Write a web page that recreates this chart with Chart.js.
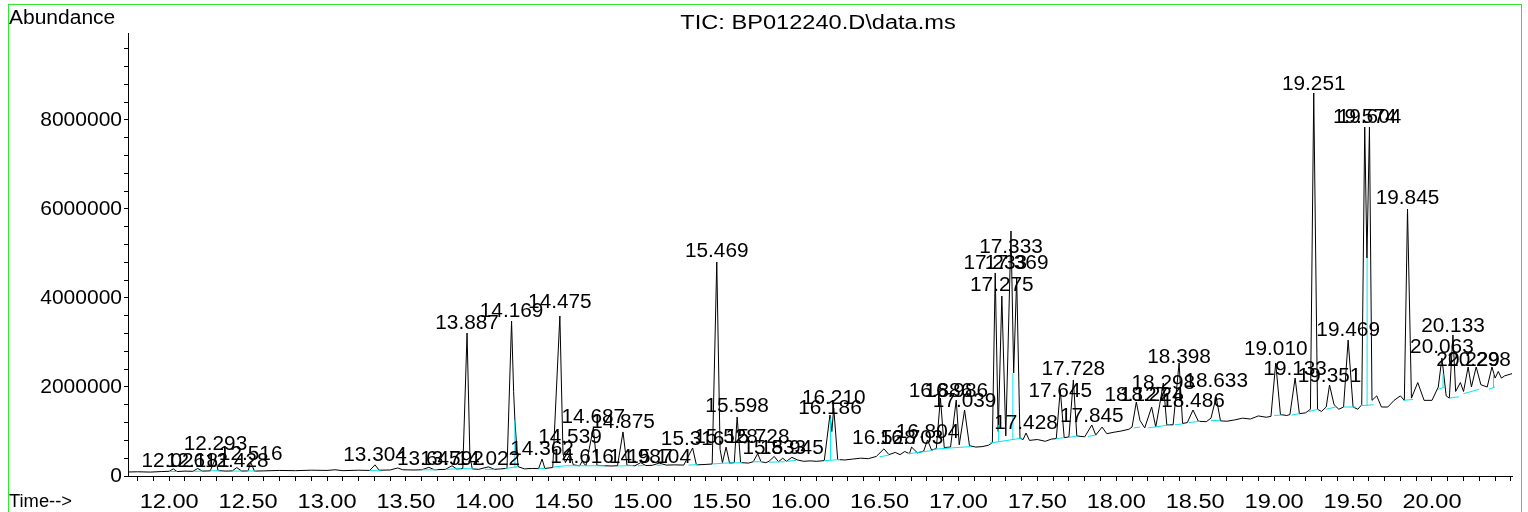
<!DOCTYPE html>
<html>
<head>
<meta charset="utf-8">
<script src="https://cdn.jsdelivr.net/npm/chart.js@4.4.1/dist/chart.umd.min.js"></script>
<style>
  html, body { margin: 0; padding: 0; background: #fff; }
  canvas { display: block; }
</style>
</head>
<body>
<canvas id="tic" width="1528" height="512"></canvas>
<script>
// TIC trace: [retention time (min), abundance]
const ticTrace = [
  [11.74, 90000], [11.80, 95000], [11.88, 88000], [11.95, 100000], [12.00, 105000],
  [12.026, 160000], [12.05, 100000], [12.10, 110000], [12.15, 105000], [12.181, 170000],
  [12.21, 110000], [12.26, 115000], [12.293, 390000], [12.31, 120000], [12.36, 110000],
  [12.40, 115000], [12.428, 190000], [12.46, 110000], [12.50, 115000], [12.516, 310000],
  [12.54, 110000], [12.60, 115000], [12.70, 125000], [12.80, 120000], [12.90, 130000],
  [13.00, 125000], [13.05, 140000], [13.10, 120000], [13.20, 130000], [13.27, 125000],
  [13.304, 250000], [13.33, 130000], [13.40, 135000], [13.447, 180000], [13.48, 140000],
  [13.55, 135000], [13.60, 140000], [13.645, 195000], [13.68, 140000], [13.75, 150000],
  [13.792, 230000], [13.82, 160000], [13.86, 165000], [13.887, 3213000], [13.905, 450000],
  [13.92, 160000], [13.96, 150000], [14.022, 205000], [14.06, 150000], [14.10, 160000],
  [14.14, 170000], [14.169, 3483000], [14.182, 1900000], [14.19, 1258000], [14.21, 210000],
  [14.25, 160000], [14.30, 170000], [14.34, 165000], [14.362, 380000], [14.38, 170000],
  [14.43, 190000], [14.475, 3596000], [14.495, 500000], [14.51, 300000], [14.539, 500000],
  [14.56, 250000], [14.60, 230000], [14.616, 330000], [14.64, 230000], [14.687, 1080000],
  [14.71, 240000], [14.76, 230000], [14.80, 225000], [14.84, 230000], [14.875, 990000],
  [14.90, 240000], [14.95, 230000], [14.987, 300000], [15.02, 235000], [15.06, 240000],
  [15.104, 290000], [15.15, 245000], [15.20, 250000], [15.26, 245000], [15.316, 630000],
  [15.34, 250000], [15.40, 260000], [15.44, 270000], [15.469, 4809000], [15.49, 600000],
  [15.505, 300000], [15.528, 650000], [15.55, 290000], [15.58, 300000], [15.598, 1326000],
  [15.62, 300000], [15.67, 290000], [15.70, 320000], [15.728, 500000], [15.75, 320000],
  [15.78, 300000], [15.80, 330000], [15.833, 440000], [15.86, 320000], [15.887, 400000],
  [15.91, 330000], [15.945, 420000], [15.98, 360000], [16.02, 330000], [16.06, 340000],
  [16.10, 330000], [16.15, 345000], [16.186, 1371000], [16.198, 1000000], [16.21, 1528000],
  [16.235, 370000], [16.28, 360000], [16.33, 380000], [16.38, 400000], [16.43, 390000],
  [16.48, 440000], [16.528, 610000], [16.56, 480000], [16.60, 530000], [16.63, 480000],
  [16.66, 550000], [16.69, 500000], [16.703, 650000], [16.74, 520000], [16.78, 560000],
  [16.804, 810000], [16.83, 580000], [16.86, 620000], [16.886, 1753000], [16.91, 640000],
  [16.95, 650000], [16.986, 1708000], [17.005, 700000], [17.039, 1483000], [17.07, 680000],
  [17.11, 650000], [17.15, 660000], [17.19, 690000], [17.215, 750000], [17.233, 4562000],
  [17.252, 1000000], [17.275, 4045000], [17.30, 900000], [17.333, 5506000], [17.35, 2315000],
  [17.369, 4449000], [17.39, 850000], [17.41, 820000], [17.428, 966000], [17.45, 800000],
  [17.50, 820000], [17.55, 780000], [17.59, 830000], [17.62, 840000], [17.645, 1933000],
  [17.67, 860000], [17.70, 880000], [17.728, 2157000], [17.75, 900000], [17.80, 880000],
  [17.845, 1146000], [17.87, 920000], [17.91, 1100000], [17.94, 950000], [17.98, 980000],
  [18.03, 1010000], [18.08, 1050000], [18.10, 1100000], [18.127, 1663000], [18.15, 1250000],
  [18.18, 1080000], [18.224, 1551000], [18.25, 1100000], [18.275, 1600000], [18.298, 2090000],
  [18.32, 1150000], [18.36, 1150000], [18.398, 2539000], [18.42, 1180000], [18.45, 1200000],
  [18.486, 1483000], [18.52, 1230000], [18.57, 1220000], [18.60, 1300000], [18.633, 1775000],
  [18.66, 1240000], [18.70, 1230000], [18.75, 1260000], [18.80, 1300000], [18.85, 1280000],
  [18.90, 1350000], [18.95, 1320000], [18.98, 1340000], [19.01, 2539000], [19.04, 1380000],
  [19.08, 1360000], [19.10, 1380000], [19.133, 2202000], [19.16, 1400000], [19.20, 1420000],
  [19.23, 1500000], [19.251, 8607000], [19.275, 1500000], [19.30, 1450000], [19.33, 1550000],
  [19.351, 2045000], [19.38, 1600000], [19.41, 1500000], [19.44, 1550000], [19.469, 3056000],
  [19.50, 1550000], [19.53, 1500000], [19.555, 1600000], [19.574, 7843000], [19.588, 4899000],
  [19.604, 7843000], [19.62, 1700000], [19.65, 1800000], [19.68, 1550000], [19.72, 1550000],
  [19.76, 1700000], [19.80, 1800000], [19.825, 1700000], [19.845, 6000000], [19.87, 1750000],
  [19.91, 2100000], [19.95, 1700000], [20.00, 1700000], [20.04, 2000000], [20.063, 2652000],
  [20.09, 1800000], [20.11, 1750000], [20.133, 3169000], [20.15, 1900000], [20.18, 2100000],
  [20.20, 1900000], [20.229, 2450000], [20.25, 2000000], [20.28, 2450000], [20.31, 2050000],
  [20.35, 2000000], [20.38, 2450000], [20.40, 2200000], [20.42, 2350000], [20.44, 2200000],
  [20.46, 2250000], [20.507, 2300000]
];

// integration baselines and drop lines: [t1, v1, t2, v2]
const baselines = [
  [12.00, 105000, 12.05, 100000], [12.16, 105000, 12.21, 110000], [12.26, 115000, 12.32, 120000],
  [12.40, 112000, 12.46, 110000], [12.49, 115000, 12.55, 110000], [13.27, 125000, 13.34, 130000],
  [13.60, 138000, 13.70, 140000], [13.76, 150000, 13.85, 165000], [13.86, 165000, 13.93, 160000],
  [14.00, 150000, 14.06, 150000], [14.13, 170000, 14.21, 210000], [14.19, 190000, 14.19, 1258000],
  [14.34, 165000, 14.38, 170000], [14.43, 200000, 14.51, 230000], [14.51, 230000, 14.76, 230000],
  [14.84, 225000, 14.94, 235000], [14.97, 230000, 15.01, 235000], [15.09, 240000, 15.12, 245000],
  [15.29, 245000, 15.35, 255000], [15.44, 270000, 15.52, 290000], [15.52, 290000, 15.63, 300000],
  [15.70, 320000, 15.76, 320000], [15.80, 310000, 15.90, 320000], [15.91, 330000, 15.97, 350000],
  [16.15, 345000, 16.25, 370000], [16.19, 355000, 16.19, 1300000], [16.50, 430000, 16.56, 470000],
  [16.68, 500000, 16.83, 570000], [16.84, 600000, 16.99, 640000], [16.99, 640000, 17.08, 660000],
  [17.20, 740000, 17.40, 850000], [17.255, 770000, 17.255, 1150000], [17.345, 820000, 17.345, 2315000],
  [17.62, 840000, 17.67, 860000], [17.70, 870000, 17.76, 900000], [17.82, 890000, 17.87, 920000],
  [18.11, 1080000, 18.15, 1100000], [18.20, 1080000, 18.34, 1150000], [18.37, 1150000, 18.42, 1170000],
  [18.46, 1200000, 18.53, 1230000], [18.60, 1250000, 18.66, 1240000], [19.00, 1360000, 19.05, 1370000],
  [19.11, 1370000, 19.16, 1400000], [19.22, 1450000, 19.28, 1500000], [19.33, 1500000, 19.39, 1550000],
  [19.44, 1550000, 19.52, 1550000], [19.55, 1580000, 19.63, 1600000], [19.589, 1590000, 19.589, 4899000],
  [19.82, 1700000, 19.88, 1720000], [20.04, 1950000, 20.08, 2000000], [20.07, 2000000, 20.07, 2300000],
  [20.11, 1750000, 20.17, 1780000], [20.20, 1850000, 20.30, 1950000], [20.36, 1950000, 20.40, 2000000],
  [20.39, 2000000, 20.39, 2300000]
];

// peak labels: [text, time, abundance at label centre]
const peakLabels = [
  ['12.026', 12.026, 382000], ['12.181', 12.181, 382000], ['12.293', 12.293, 764000],
  ['12.428', 12.428, 382000], ['12.516', 12.516, 539000], ['13.304', 13.304, 517000],
  ['13.645', 13.645, 427000], ['13.792', 13.792, 427000], ['14.022', 14.022, 427000],
  ['13.887', 13.887, 3483000], ['14.169', 14.169, 3753000], ['14.475', 14.475, 3933000],
  ['14.362', 14.362, 652000], ['14.539', 14.539, 921000], ['14.616', 14.616, 472000],
  ['14.687', 14.687, 1371000], ['14.875', 14.875, 1258000], ['14.987', 14.987, 472000],
  ['15.104', 15.104, 472000], ['15.316', 15.316, 876000], ['15.469', 15.469, 5079000],
  ['15.528', 15.528, 921000], ['15.598', 15.598, 1596000], ['15.728', 15.728, 921000],
  ['15.833', 15.833, 674000], ['15.945', 15.945, 674000], ['16.186', 16.186, 1573000],
  ['16.210', 16.210, 1798000], ['16.528', 16.528, 899000], ['16.703', 16.703, 899000],
  ['16.804', 16.804, 1034000], ['16.886', 16.886, 1955000], ['16.986', 16.986, 1955000],
  ['17.039', 17.039, 1730000], ['17.233', 17.233, 4831000], ['17.369', 17.369, 4831000],
  ['17.275', 17.275, 4315000], ['17.333', 17.333, 5191000], ['17.428', 17.428, 1236000],
  ['17.645', 17.645, 1955000], ['17.728', 17.728, 2449000], ['17.845', 17.845, 1393000],
  ['18.127', 18.127, 1865000], ['18.224', 18.224, 1865000], ['18.298', 18.298, 2135000],
  ['18.398', 18.398, 2719000], ['18.486', 18.486, 1730000], ['18.633', 18.633, 2180000],
  ['19.010', 19.010, 2899000], ['19.133', 19.133, 2449000], ['19.251', 19.251, 8854000],
  ['19.351', 19.351, 2292000], ['19.469', 19.469, 3326000], ['19.574', 19.574, 8112000],
  ['19.604', 19.604, 8112000], ['19.845', 19.845, 6270000], ['20.063', 20.063, 2944000],
  ['20.133', 20.133, 3416000], ['20.229', 20.229, 2652000], ['20.298', 20.298, 2652000]
];

const xTickLabels = ['12.00', '12.50', '13.00', '13.50', '14.00', '14.50', '15.00', '15.50',
  '16.00', '16.50', '17.00', '17.50', '18.00', '18.50', '19.00', '19.50', '20.00'];
const yTickLabels = [0, 2000000, 4000000, 6000000, 8000000];

const xMin = 11.739, xMax = 20.507;
const yMax = 9955000;

const FONT = '"Liberation Sans", Arial, Helvetica, sans-serif';
Chart.defaults.font.family = FONT;
Chart.defaults.color = '#000';

// minor ticks every 0.1 min / 400000 counts
const xMinor = [];
for (let i = 118; i <= 205; i++) xMinor.push(i / 10);
const yMinor = [];
for (let i = 0; i <= 24; i++) yMinor.push(i * 400000);

const cyanData = [];
baselines.forEach(b => {
  cyanData.push([b[0], b[1]]);
  cyanData.push([b[2], b[3]]);
  cyanData.push([b[2], null]);
});

// text in the original export is drawn a bit wider than the font
function wideText(c, text, x, y, sx) {
  c.save();
  c.translate(x, y);
  c.scale(sx, 1);
  c.fillText(text, 0, 0);
  c.restore();
}

function stretchLabels(scale, sx) {
  if (scale._stretched) return;
  const draw = scale.drawLabels;
  scale.drawLabels = function (area) {
    const c = this.ctx;
    const fill = c.fillText;
    c.fillText = function (t, x, y) {
      this.save();
      this.translate(x, y);
      this.scale(sx, 1);
      fill.call(this, t, 0, 0);
      this.restore();
    };
    draw.call(this, area);
    delete c.fillText;
  };
  scale._stretched = true;
}

const textPlugin = {
  id: 'textPlugin',
  afterLayout(chart) {
    stretchLabels(chart.scales.x, 1.18);
    stretchLabels(chart.scales.y, 1.05);
  },
  beforeDraw(chart) {
    const c = chart.ctx;
    c.save();
    c.fillStyle = '#fff';
    c.fillRect(0, 0, chart.width, chart.height);
    c.restore();
  },
  afterDraw(chart) {
    const c = chart.ctx;
    const xs = chart.scales.x, ys = chart.scales.y;
    c.save();
    c.fillStyle = '#000';
    c.font = '20px ' + FONT;
    c.textAlign = 'center';
    c.textBaseline = 'middle';
    peakLabels.forEach(p => {
      wideText(c, p[0], xs.getPixelForValue(p[1]), ys.getPixelForValue(p[2]) + 2, 1.04);
    });
    c.textBaseline = 'alphabetic';
    c.textAlign = 'left';
    wideText(c, 'Abundance', 9, 24, 1.05);
    c.font = '18px ' + FONT;
    wideText(c, 'Time-->', 9, 507, 1.02);
    c.font = '20px ' + FONT;
    c.textAlign = 'center';
    wideText(c, 'TIC: BP012240.D\\data.ms', 818, 29, 1.18);
    c.strokeStyle = '#33e633';
    c.lineWidth = 1;
    c.strokeRect(8.5, 4.5, 1513, 520);
    c.restore();
  }
};

new Chart(document.getElementById('tic').getContext('2d'), {
  type: 'line',
  data: {
    datasets: [
      { label: 'baseline', data: cyanData, borderColor: '#00e8f0', borderWidth: 1,
        pointRadius: 0, spanGaps: false, tension: 0 },
      { label: 'TIC', data: ticTrace, borderColor: '#000', borderWidth: 1,
        pointRadius: 0, tension: 0 }
    ]
  },
  options: {
    responsive: false,
    animation: false,
    devicePixelRatio: 1,
    layout: { padding: { left: 0, right: 16, top: 33, bottom: 0 } },
    plugins: { legend: { display: false }, tooltip: { enabled: false }, title: { display: false } },
    scales: {
      x: {
        type: 'linear', min: xMin, max: xMax,
        afterFit: s => { s.height = 36; },
        afterBuildTicks: s => { s.ticks = xMinor.map(v => ({ value: v })); },
        ticks: {
          autoSkip: false, maxRotation: 0, padding: 9,
          font: { size: 20 }, color: '#000',
          callback: v => xTickLabels.find(l => Math.abs(parseFloat(l) - v) < 1e-6) || ''
        },
        grid: { drawOnChartArea: false, tickLength: 5, color: '#000' },
        border: { color: '#000', width: 1 }
      },
      y: {
        type: 'linear', min: 0, max: yMax,
        afterFit: s => { s.width = 128; },
        afterBuildTicks: s => { s.ticks = yMinor.map(v => ({ value: v })); },
        ticks: {
          autoSkip: false, padding: 2,
          font: { size: 20 }, color: '#000',
          callback: v => yTickLabels.includes(v) ? String(v) : ''
        },
        grid: { drawOnChartArea: false, tickLength: 4, color: '#000' },
        border: { color: '#000', width: 1 }
      }
    }
  },
  plugins: [textPlugin]
});
</script>
</body>
</html>
